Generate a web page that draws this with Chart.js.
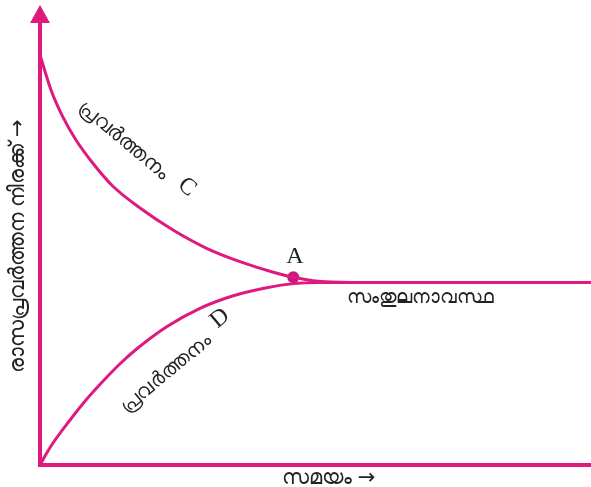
<!DOCTYPE html>
<html>
<head>
<meta charset="utf-8">
<script src="https://cdn.jsdelivr.net/npm/chart.js@4/dist/chart.umd.min.js"></script>
<style>
html,body{margin:0;padding:0;background:#fff;}
#wrap{width:591px;height:487px;position:relative;}
</style>
</head>
<body>
<div id="wrap"><canvas id="c" width="591" height="487"></canvas></div>
<script>
// Reaction C (forward) rate vs time
const reactionCX = [0, 2.0, 4.12, 6.53, 9.56, 13.19, 18.15, 24.14, 30.25, 36.3, 42.34, 45.97, 49.55, 54.45, 59.89, 100];
const reactionCY = [89.13, 81.52, 75.72, 70.65, 65.65, 60.65, 55.87, 51.09, 47.11, 44.2, 41.89, 40.8, 40.07, 39.72, 39.67, 39.67];
// Reaction D (backward) rate vs time
const reactionDX = [0, 0.91, 2.3, 5.32, 8.35, 11.38, 14.39, 17.42, 22.99, 29.04, 35.08, 41.14, 45.97, 50.82, 56.26, 100];
const reactionDY = [0, 1.96, 4.67, 9.57, 14.13, 18.15, 21.85, 25.11, 30.07, 34.07, 36.8, 38.54, 39.43, 39.65, 39.67, 39.67];
// Equilibrium point A
const pointA = [{x: 45.97, y: 40.8}];
// Text labels
const labelA = "A";
const labelCWord = "പ്രവർത്തനം";
const labelCLetter = "C";
const labelDWord = "പ്രവർത്തനം";
const labelDLetter = "D";
const labelEq = "സംതുലനാവസ്ഥ";
const xTitle = "സമയം →";
const yTitle = "രാസപ്രവർത്തന നിരക്ക് →";

const COLOR = '#DE1A7E';
const TEXT = '#222';
const mlFont = '"Noto Sans", "DejaVu Sans", sans-serif';
const serifFont = '"Liberation Serif", "DejaVu Serif", serif';

const toPts = (xs, ys) => xs.map((x, i) => ({x, y: ys[i]}));

const decor = {
  id: 'decor',
  afterDatasetsDraw(chart) {
    const {ctx, scales} = chart;
    const xs = scales.x, ys = scales.y;
    const x0 = xs.getPixelForValue(0), y0 = ys.getPixelForValue(0);
    const yTop = ys.getPixelForValue(100);
    ctx.save();
    // axes
    ctx.strokeStyle = COLOR;
    ctx.lineWidth = 4;
    ctx.lineCap = 'butt';
    ctx.beginPath();
    ctx.moveTo(x0, y0 + 2);
    ctx.lineTo(x0, yTop + 14);
    ctx.moveTo(x0 - 2, y0);
    ctx.lineTo(xs.getPixelForValue(100), y0);
    ctx.stroke();
    // arrow head
    ctx.fillStyle = COLOR;
    ctx.beginPath();
    ctx.moveTo(x0, yTop);
    ctx.lineTo(x0 - 10, yTop + 18);
    ctx.lineTo(x0 + 10, yTop + 18);
    ctx.closePath();
    ctx.fill();

    const txt = (s, x, y, font, rot) => {
      ctx.save();
      ctx.translate(x, y);
      ctx.rotate((rot || 0) * Math.PI / 180);
      ctx.font = font;
      ctx.fillStyle = TEXT;
      ctx.textAlign = 'center';
      ctx.textBaseline = 'middle';
      ctx.fillText(s, 0, 0);
      ctx.restore();
    };
    txt(labelA, xs.getPixelForValue(46.28), ys.getPixelForValue(45.22), '24px ' + serifFont, 0);
    txt(labelCWord, xs.getPixelForValue(15.15), ys.getPixelForValue(70.65), '20px ' + mlFont, 40);
    txt(labelCLetter, xs.getPixelForValue(26.68), ys.getPixelForValue(60.43), '24px ' + serifFont, 40);
    txt(labelDWord, xs.getPixelForValue(22.87), ys.getPixelForValue(19.89), '20px ' + mlFont, -40);
    txt(labelDLetter, xs.getPixelForValue(32.7), ys.getPixelForValue(31.9), '24px ' + serifFont, -40);
    txt(labelEq, xs.getPixelForValue(68.97), ys.getPixelForValue(36.3), '19px ' + mlFont, 0);
    txt(xTitle, xs.getPixelForValue(52.4), y0 + 13, '21px ' + mlFont, 0);
    txt(yTitle, 18, ys.getPixelForValue(47.6), '21px ' + mlFont, -90);
    ctx.restore();
  }
};

new Chart(document.getElementById('c'), {
  type: 'scatter',
  data: {
    datasets: [
      {data: toPts(reactionCX, reactionCY), showLine: true, borderColor: COLOR, borderWidth: 3,
       pointRadius: 0, cubicInterpolationMode: 'monotone', fill: false, clip: false},
      {data: toPts(reactionDX, reactionDY), showLine: true, borderColor: COLOR, borderWidth: 3,
       pointRadius: 0, cubicInterpolationMode: 'monotone', fill: false, clip: false},
      {data: pointA, showLine: false, pointRadius: 6, pointBackgroundColor: '#C8197F',
       pointBorderWidth: 0, clip: false}
    ]
  },
  options: {
    responsive: false,
    animation: false,
    devicePixelRatio: 1,
    layout: {autoPadding: false, padding: {left: 40, right: 0, top: 5, bottom: 22}},
    plugins: {legend: {display: false}, tooltip: {enabled: false}},
    scales: {
      x: {type: 'linear', min: 0, max: 100, display: false},
      y: {type: 'linear', min: 0, max: 100, display: false}
    }
  },
  plugins: [decor]
});
</script>
</body>
</html>
